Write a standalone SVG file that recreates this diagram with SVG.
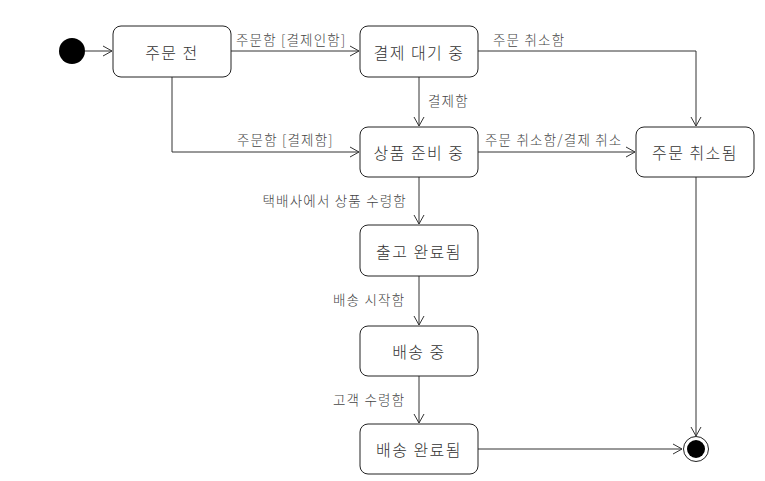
<svg xmlns="http://www.w3.org/2000/svg" width="765" height="481" viewBox="0 0 765 481">
<defs>
<marker id="arr" markerWidth="12" markerHeight="12" refX="10" refY="6" orient="auto" markerUnits="userSpaceOnUse">
<path d="M1,1 L10,6 L1,11" fill="none" stroke="#333" stroke-width="1"/>
</marker>
<style>
.st rect{fill:#fff;stroke:#222;stroke-width:1}
.st text{font-family:"Noto Sans CJK KR","Noto Sans",sans-serif;font-size:16px;font-weight:300;letter-spacing:1.5px;fill:#333;text-anchor:middle;dominant-baseline:central}
.e path{fill:none;stroke:#333;stroke-width:1;marker-end:url(#arr)}
.e text{font-family:"Noto Sans CJK KR","Noto Sans",sans-serif;font-size:13.5px;font-weight:300;letter-spacing:1.2px;fill:#444}
</style>
</defs>
<rect width="765" height="481" fill="#fff"/>
<g id="connectors" class="e">
<path d="M85,51 H112"/>
<path d="M231,51 H359"/>
<text x="236" y="45">주문함 [결제인함]</text>
<path d="M478,51 H696 V126"/>
<text x="493" y="45">주문 취소함</text>
<path d="M419,77 V126"/>
<text x="428" y="106">결제함</text>
<path d="M172,77 V152 H359"/>
<text x="237" y="145">주문함 [결제함]</text>
<path d="M478,152 H635"/>
<text x="485" y="145">주문 취소함/결제 취소</text>
<path d="M419,177 V224"/>
<text x="407" y="206" text-anchor="end">택배사에서 상품 수령함</text>
<path d="M419,276 V325"/>
<text x="333" y="305">배송 시작함</text>
<path d="M419,376 V423"/>
<text x="333" y="405">고객 수령함</text>
<path d="M478,449 H682"/>
<path d="M696,177 V436"/>
</g>
<g id="start"><circle cx="72" cy="51" r="13" fill="#000"/></g>
<g id="s1" class="st"><rect x="113" y="26" width="118" height="51" rx="8"/><text x="172" y="51.5">주문 전</text></g>
<g id="s2" class="st"><rect x="360" y="26" width="118" height="51" rx="8"/><text x="419" y="51.5">결제 대기 중</text></g>
<g id="s3" class="st"><rect x="360" y="127" width="118" height="50" rx="8"/><text x="419" y="152">상품 준비 중</text></g>
<g id="s4" class="st"><rect x="636" y="127" width="118" height="50" rx="8"/><text x="695" y="152">주문 취소됨</text></g>
<g id="s5" class="st"><rect x="360" y="225" width="118" height="51" rx="8"/><text x="419" y="250.5">출고 완료됨</text></g>
<g id="s6" class="st"><rect x="360" y="326" width="118" height="50" rx="8"/><text x="419" y="351">배송 중</text></g>
<g id="s7" class="st"><rect x="360" y="424" width="118" height="50" rx="8"/><text x="419" y="449">배송 완료됨</text></g>
<g id="end"><circle cx="696" cy="449" r="12.5" fill="#fff" stroke="#222" stroke-width="1"/><circle cx="696" cy="449" r="9" fill="#000"/></g>
</svg>
